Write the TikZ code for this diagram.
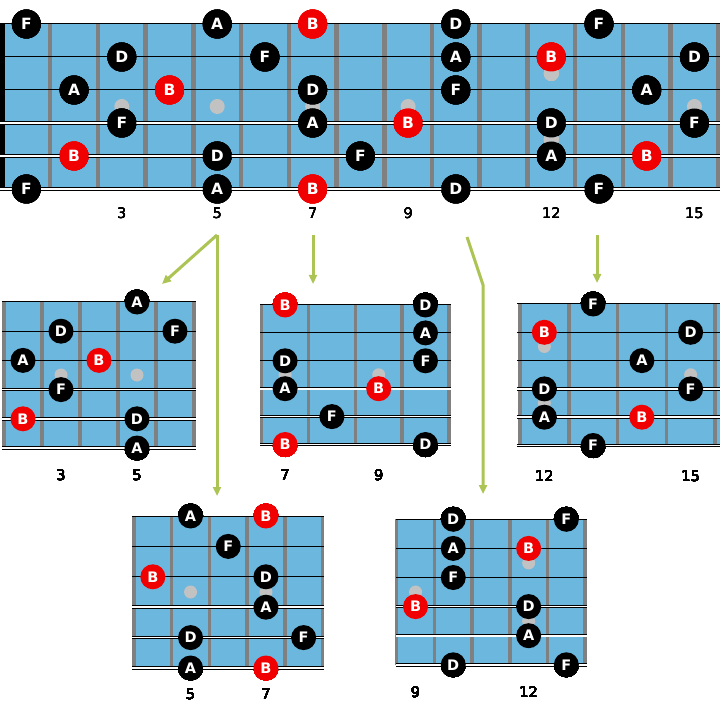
\documentclass[tikz,border=0pt]{standalone}
\usepackage{fontspec}
\setmainfont{DejaVu Sans}
\usetikzlibrary{arrows.meta}
\definecolor{boardc}{RGB}{108,183,222}
\definecolor{fretc}{RGB}{128,128,128}
\definecolor{dotc}{RGB}{194,194,194}
\definecolor{arrowc}{RGB}{172,196,84}
\definecolor{rednote}{RGB}{240,0,0}
\tikzset{
  notebase/.style={circle, inner sep=0pt, text=white},
  blk/.style={notebase, fill=black},
  rd/.style={notebase, fill=rednote},
  bignote/.style={minimum size=29pt, font=\bfseries\fontsize{15.5}{15.5}\selectfont},
  smallnote/.style={minimum size=25pt, font=\bfseries\fontsize{14.5}{14.5}\selectfont},
  fretnum/.style={font=\fontsize{14.5}{14.5}\selectfont, text=black, inner sep=0pt},
  guide/.style={draw=arrowc, line width=3pt, line join=miter, -{Triangle[length=9pt,width=8pt]}},
}
% board parameters: left fret x, top string y, fret spacing, string spacing, first fret number, number of spaces
\newcommand\setboard[6]{\def\bx{#1}\def\by{#2}\def\bdx{#3}\def\bdy{#4}\def\bF{#5}\def\bn{#6}}
% #1 blue left, #2 blue right, #3 fret width
\newcommand\drawboard[3]{%
  \fill[boardc] (#1,\by) rectangle (#2,{\by+5*\bdy});
  \foreach \k in {0,...,\bn}
    \draw[fretc, line width=#3] ({\bx+\k*\bdx},\by) -- ({\bx+\k*\bdx},{\by+5*\bdy});
}
% #1 strings left, #2 strings right, #3 wound string width
\newcommand\drawstrings[3]{%
  \foreach \s in {1,2,3}
    \draw[black, line width=1pt] (#1,{\by+(\s-1)*\bdy}) -- (#2,{\by+(\s-1)*\bdy});
  \foreach \s in {4,5,6}{
    \draw[black, line width=#3] (#1,{\by+(\s-1)*\bdy}) -- (#2,{\by+(\s-1)*\bdy});
    \draw[white, line width=#3*0.5] (#1,{\by+(\s-1)*\bdy}) -- (#2,{\by+(\s-1)*\bdy});}
}
\newcommand\bdot[3]{\fill[dotc] ({\bx+(#1-\bF+0.5)*\bdx},{\by+(#2-1)*\bdy}) circle[radius=#3];}
% prefix, string, fret, letter, colour style, size style
\newcommand\bnote[6]{\node[#5, #6] (#1-#2-#3) at ({\bx+(#3-\bF+0.5)*\bdx},{\by+(#2-1)*\bdy}) {#4};}
\newcommand\blabel[3]{\node[fretnum] (#1-n#2) at ({\bx+(#2-\bF+0.5)*\bdx},#3) {#2};}
\begin{document}
\begin{tikzpicture}[x=1pt,y=-1pt]
\useasboundingbox (0,0) rectangle (720,719);
\fill[white] (0,0) rectangle (720,719);
% ---------------- main board ----------------
\setboard{2.5}{24}{47.72}{33}{1}{15}
\drawboard{0}{720}{4.5pt}
\fill[black] (0,24) rectangle (5,189);
\foreach \f in {3,5,7,9,15} \bdot{\f}{3.5}{7.5pt}
\bdot{12}{2.5}{7.5pt}\bdot{12}{4.5}{7.5pt}
\drawstrings{0}{720}{4pt}
\def\ms{bignote}
\bnote{m}{1}{1}{F}{blk}{\ms}\bnote{m}{1}{5}{A}{blk}{\ms}\bnote{m}{1}{7}{B}{rd}{\ms}\bnote{m}{1}{10}{D}{blk}{\ms}\bnote{m}{1}{13}{F}{blk}{\ms}
\bnote{m}{2}{3}{D}{blk}{\ms}\bnote{m}{2}{6}{F}{blk}{\ms}\bnote{m}{2}{10}{A}{blk}{\ms}\bnote{m}{2}{12}{B}{rd}{\ms}\bnote{m}{2}{15}{D}{blk}{\ms}
\bnote{m}{3}{2}{A}{blk}{\ms}\bnote{m}{3}{4}{B}{rd}{\ms}\bnote{m}{3}{7}{D}{blk}{\ms}\bnote{m}{3}{10}{F}{blk}{\ms}\bnote{m}{3}{14}{A}{blk}{\ms}
\bnote{m}{4}{3}{F}{blk}{\ms}\bnote{m}{4}{7}{A}{blk}{\ms}\bnote{m}{4}{9}{B}{rd}{\ms}\bnote{m}{4}{12}{D}{blk}{\ms}\bnote{m}{4}{15}{F}{blk}{\ms}
\bnote{m}{5}{2}{B}{rd}{\ms}\bnote{m}{5}{5}{D}{blk}{\ms}\bnote{m}{5}{8}{F}{blk}{\ms}\bnote{m}{5}{12}{A}{blk}{\ms}\bnote{m}{5}{14}{B}{rd}{\ms}
\bnote{m}{6}{1}{F}{blk}{\ms}\bnote{m}{6}{5}{A}{blk}{\ms}\bnote{m}{6}{7}{B}{rd}{\ms}\bnote{m}{6}{10}{D}{blk}{\ms}\bnote{m}{6}{13}{F}{blk}{\ms}
\foreach \f in {3,5,7,9,12,15} \blabel{m}{\f}{213}
\def\ss{smallnote}
% ---------------- sub board 1 (frets 2-6) ----------------
\setboard{4}{302}{38}{29.2}{2}{5}
\drawboard{4}{194}{3.5pt}
\bdot{3}{3.5}{6.5pt}\bdot{5}{3.5}{6.5pt}
\drawstrings{2}{196}{3.5pt}
\bnote{p}{1}{5}{A}{blk}{\ss}
\bnote{p}{2}{3}{D}{blk}{\ss}\bnote{p}{2}{6}{F}{blk}{\ss}
\bnote{p}{3}{2}{A}{blk}{\ss}\bnote{p}{3}{4}{B}{rd}{\ss}
\bnote{p}{4}{3}{F}{blk}{\ss}
\bnote{p}{5}{2}{B}{rd}{\ss}\bnote{p}{5}{5}{D}{blk}{\ss}
\bnote{p}{6}{5}{A}{blk}{\ss}
\blabel{p}{3}{475}\blabel{p}{5}{475}
% ---------------- sub board 2 (frets 7-10) ----------------
\setboard{261.7}{305}{46.8}{27.9}{7}{4}
\drawboard{261.7}{449}{3.5pt}
\bdot{7}{3.5}{6.5pt}\bdot{9}{3.5}{6.5pt}
\drawstrings{260}{451}{3.5pt}
\bnote{q}{1}{7}{B}{rd}{\ss}\bnote{q}{1}{10}{D}{blk}{\ss}
\bnote{q}{2}{10}{A}{blk}{\ss}
\bnote{q}{3}{7}{D}{blk}{\ss}\bnote{q}{3}{10}{F}{blk}{\ss}
\bnote{q}{4}{7}{A}{blk}{\ss}\bnote{q}{4}{9}{B}{rd}{\ss}
\bnote{q}{5}{8}{F}{blk}{\ss}
\bnote{q}{6}{7}{B}{rd}{\ss}\bnote{q}{6}{10}{D}{blk}{\ss}
\blabel{q}{7}{475}\blabel{q}{9}{475}
% ---------------- sub board 3 (frets 12-15) ----------------
\setboard{520}{304}{48.75}{28.3}{12}{4}
\drawboard{520}{722}{3.5pt}
\bdot{12}{2.5}{6.5pt}\bdot{12}{4.5}{6.5pt}\bdot{15}{3.5}{6.5pt}
\drawstrings{517}{722}{3.5pt}
\bnote{r}{1}{13}{F}{blk}{\ss}
\bnote{r}{2}{12}{B}{rd}{\ss}\bnote{r}{2}{15}{D}{blk}{\ss}
\bnote{r}{3}{14}{A}{blk}{\ss}
\bnote{r}{4}{12}{D}{blk}{\ss}\bnote{r}{4}{15}{F}{blk}{\ss}
\bnote{r}{5}{12}{A}{blk}{\ss}\bnote{r}{5}{14}{B}{rd}{\ss}
\bnote{r}{6}{13}{F}{blk}{\ss}
\blabel{r}{12}{476}\blabel{r}{15}{476}
% ---------------- sub board 4 (frets 4-8) ----------------
\setboard{134}{516}{37.7}{30.4}{4}{5}
\drawboard{134}{322.7}{3.5pt}
\bdot{5}{3.5}{6.5pt}\bdot{7}{3.5}{6.5pt}
\drawstrings{132}{324}{3.5pt}
\bnote{s}{1}{5}{A}{blk}{\ss}\bnote{s}{1}{7}{B}{rd}{\ss}
\bnote{s}{2}{6}{F}{blk}{\ss}
\bnote{s}{3}{4}{B}{rd}{\ss}\bnote{s}{3}{7}{D}{blk}{\ss}
\bnote{s}{4}{7}{A}{blk}{\ss}
\bnote{s}{5}{5}{D}{blk}{\ss}\bnote{s}{5}{8}{F}{blk}{\ss}
\bnote{s}{6}{5}{A}{blk}{\ss}\bnote{s}{6}{7}{B}{rd}{\ss}
\blabel{s}{5}{694}\blabel{s}{7}{694}
% ---------------- sub board 5 (frets 9-13) ----------------
\setboard{396.7}{519.3}{37.7}{29.1}{9}{5}
\drawboard{396.7}{585}{3.5pt}
\bdot{9}{3.5}{6.5pt}\bdot{12}{2.5}{6.5pt}\bdot{12}{4.5}{6.5pt}
\drawstrings{396}{587}{3.5pt}
\bnote{t}{1}{10}{D}{blk}{\ss}\bnote{t}{1}{13}{F}{blk}{\ss}
\bnote{t}{2}{10}{A}{blk}{\ss}\bnote{t}{2}{12}{B}{rd}{\ss}
\bnote{t}{3}{10}{F}{blk}{\ss}
\bnote{t}{4}{9}{B}{rd}{\ss}\bnote{t}{4}{12}{D}{blk}{\ss}
\bnote{t}{5}{12}{A}{blk}{\ss}
\bnote{t}{6}{10}{D}{blk}{\ss}\bnote{t}{6}{13}{F}{blk}{\ss}
\blabel{t}{9}{692}\blabel{t}{12}{692}
% ---------------- guide arrows ----------------
\coordinate (a1s) at (217,235);
\coordinate (a1t) at (162,284);
\coordinate (a1b) at (217,496);
\coordinate (a2s) at (313,235);
\coordinate (a2t) at (313,284);
\coordinate (a3s) at (467,237);
\coordinate (a3m) at (483,285);
\coordinate (a3t) at (483,494);
\coordinate (a4s) at (597,235);
\coordinate (a4t) at (597,283);
\draw[guide] (a1s) -- (a1t);
\draw[guide] (a1s) -- (a1b);
\draw[guide] (a2s) -- (a2t);
\draw[guide] (a3s) -- (a3m) -- (a3t);
\draw[guide] (a4s) -- (a4t);
\end{tikzpicture}
\end{document}
